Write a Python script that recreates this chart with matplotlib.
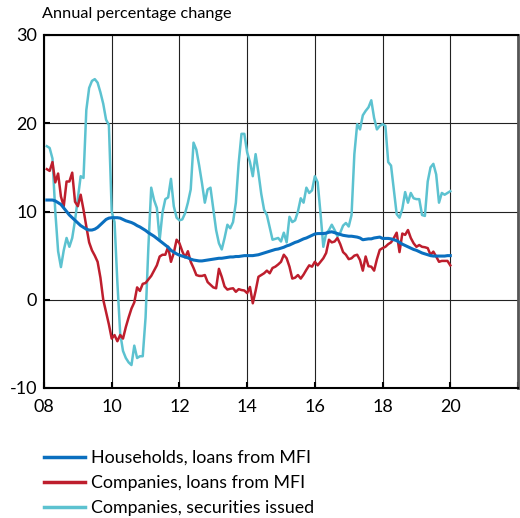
import numpy as np
import matplotlib
matplotlib.use("Agg")
import matplotlib.pyplot as plt
from matplotlib.lines import Line2D

plt.rcParams['font.family'] = ['Lato', 'DejaVu Sans']

# Monthly observations, Jan 2008 - Dec 2019 (annual percentage change)
households_loans = [
    11.3, 11.3, 11.3, 11.2, 11.0, 10.8, 10.4, 10.0, 9.6, 9.3, 9.0, 8.7,
    8.4, 8.2, 8.0, 7.9, 7.9, 8.0, 8.2, 8.5, 8.8, 9.1, 9.25, 9.3,
    9.3, 9.3, 9.25, 9.1, 8.95, 8.85, 8.75, 8.6, 8.4, 8.25, 8.05, 7.85,
    7.6, 7.4, 7.2, 6.95, 6.7, 6.45, 6.2, 5.95, 5.6, 5.4, 5.2, 5.05,
    4.95, 4.85, 4.75, 4.6, 4.5, 4.45, 4.4, 4.4, 4.45, 4.5, 4.55, 4.6,
    4.65, 4.7, 4.7, 4.75, 4.8, 4.85, 4.85, 4.9, 4.9, 4.95, 5.0, 5.0,
    5.0, 5.0, 5.05, 5.1, 5.2, 5.3, 5.4, 5.5, 5.6, 5.7, 5.75, 5.85,
    5.95, 6.1, 6.2, 6.35, 6.5, 6.6, 6.75, 6.9, 7.0, 7.15, 7.3, 7.45,
    7.5, 7.5, 7.5, 7.55, 7.65, 7.7, 7.6, 7.5, 7.4, 7.3, 7.25, 7.2,
    7.2, 7.15, 7.1, 7.0, 6.8, 6.85, 6.9, 6.9, 7.0, 7.05, 7.1, 6.95,
    6.95, 6.95, 6.9, 6.8, 6.7, 6.5, 6.3, 6.15, 6.0, 5.85, 5.7, 5.6,
    5.45, 5.3, 5.2, 5.1, 5.0, 4.95, 4.95, 4.95, 4.95, 4.95, 5.0, 5.0,
]

companies_loans = [
    14.8, 14.6, 15.6, 13.3, 14.3, 11.7, 10.6, 13.4, 13.4, 14.4, 11.1, 10.6,
    11.9, 10.2, 8.3, 6.5, 5.6, 5.0, 4.3, 2.5, 0.0, -1.4, -2.8, -4.4,
    -4.0, -4.7, -4.0, -4.4, -3.1, -2.0, -1.0, -0.3, 1.4, 1.0, 1.8, 1.9,
    2.3, 2.7, 3.3, 3.9, 4.9, 5.1, 5.1, 6.0, 4.3, 5.3, 6.8, 6.4,
    5.5, 4.8, 5.5, 4.3, 3.6, 2.8, 2.7, 2.7, 2.8, 2.0, 1.7, 1.4,
    1.3, 3.5, 2.6, 1.5, 1.15, 1.25, 1.3, 0.9, 1.2, 1.1, 1.05, 0.75,
    1.45, -0.4, 1.0, 2.6, 2.8, 3.0, 3.3, 3.0, 3.6, 3.75, 4.0, 4.3,
    5.1, 4.7, 3.75, 2.4, 2.5, 2.8, 2.4, 2.85, 3.4, 3.9, 3.75, 4.3,
    3.9, 4.3, 4.7, 5.3, 6.8, 6.5, 6.6, 7.0, 6.3, 5.4, 5.1, 4.6,
    4.7, 5.0, 5.1, 4.5, 3.3, 4.9, 3.8, 3.75, 3.3, 4.6, 5.65, 5.85,
    6.0, 6.3, 6.5, 7.0, 7.6, 5.4, 7.5, 7.35, 7.9, 7.0, 6.4, 6.0,
    6.2, 6.0, 5.95, 5.85, 5.1, 5.45, 4.9, 4.3, 4.4, 4.4, 4.4, 3.9,
]

companies_securities = [
    17.4, 17.2, 16.0, 10.0, 5.5, 3.7, 5.6, 7.0, 6.0, 7.0, 9.0, 11.5,
    14.0, 13.8, 21.5, 24.0, 24.8, 25.0, 24.6, 23.5, 22.2, 20.4, 19.8, 10.0,
    8.8, 2.0, -3.8, -5.8, -6.6, -7.1, -7.4, -5.2, -6.6, -6.4, -6.4, -2.0,
    6.0, 12.7, 11.3, 10.4, 6.8, 9.9, 11.4, 11.6, 13.7, 10.6, 9.3, 9.0,
    9.1, 9.8, 11.0, 12.5, 17.8, 17.0, 15.2, 13.2, 11.0, 12.5, 12.7, 10.3,
    7.9, 6.4, 5.7, 7.0, 8.5, 8.1, 8.8, 11.0, 15.5, 18.8, 18.8, 16.7,
    15.6, 14.0, 16.5, 14.4, 12.0, 10.2, 9.6, 8.2, 6.8, 6.9, 7.0, 6.6,
    7.6, 6.5, 9.4, 8.8, 9.0, 10.0, 11.5, 11.0, 12.7, 12.1, 12.4, 14.0,
    13.3, 9.8, 6.0, 7.5, 7.9, 8.5, 7.9, 7.2, 7.6, 8.4, 8.7, 8.3,
    9.6, 16.5, 19.9, 19.3, 20.9, 21.4, 21.8, 22.6, 20.6, 19.3, 19.7, 19.9,
    19.7, 15.6, 15.2, 12.5, 9.7, 9.3, 10.3, 12.2, 11.0, 12.1, 11.5, 11.4,
    11.4, 9.6, 9.5, 13.4, 15.0, 15.4, 14.2, 11.0, 12.1, 11.9, 12.1, 12.3,
]

series_labels = ["Households, loans from MFI",
                 "Companies, loans from MFI",
                 "Companies, securities issued"]
series_colors = ["#0A6FBF", "#BE1E2D", "#5CC2D0"]

x_ticks = [2008, 2010, 2012, 2014, 2016, 2018, 2020, 2022]
x_tick_labels = ["08", "10", "12", "14", "16", "18", "20", ""]
y_ticks = [-10, 0, 10, 20, 30]
y_tick_labels = ["-10", "0", "10", "20", "30"]

start_year = 2008
dates = start_year + np.arange(1, len(households_loans) + 1) / 12.0

fig = plt.figure(figsize=(5.2, 5.18), dpi=100)
ax = fig.add_axes([44 / 520, 1 - 388 / 518, (518 - 44) / 520, (388 - 35) / 518])

# draw in order: securities (back), companies loans, households (front)
ax.plot(dates, companies_securities, color=series_colors[2], lw=1.8, zorder=3)
ax.plot(dates, companies_loans, color=series_colors[1], lw=1.8, zorder=4)
ax.plot(dates, households_loans, color=series_colors[0], lw=2.2, zorder=5)

ax.set_xlim(2008, 2022)
ax.set_ylim(-10, 30)
ax.set_xticks(x_ticks)
ax.set_xticklabels(x_tick_labels)
ax.set_yticks(y_ticks)
ax.set_yticklabels(y_tick_labels)
ax.grid(True, color="#222222", lw=0.8, zorder=1)
ax.set_axisbelow(True)
ax.tick_params(axis='both', direction='in', length=4, width=1.5, labelsize=13,
               colors='black', pad=5)
ax.tick_params(axis='x', pad=8)
for side in ['left', 'top', 'bottom']:
    ax.spines[side].set_color('black')
    ax.spines[side].set_linewidth(1.5)
ax.spines['right'].set_color('#555555')
ax.spines['right'].set_linewidth(2.0)

fig.text(42 / 520, 1 - 14 / 518, "Annual percentage change", fontsize=11.7,
         ha='left', va='center')

handles = [Line2D([], [], color=c, lw=2.5) for c in series_colors]
fig.legend(handles, series_labels, loc='upper left',
           bbox_to_anchor=(44 / 520, 1 - 450 / 518), frameon=False,
           fontsize=12.8, handlelength=2.3, handletextpad=0.35,
           labelspacing=0.5, borderpad=0, borderaxespad=0)

fig.savefig("out.png", dpi=100)
